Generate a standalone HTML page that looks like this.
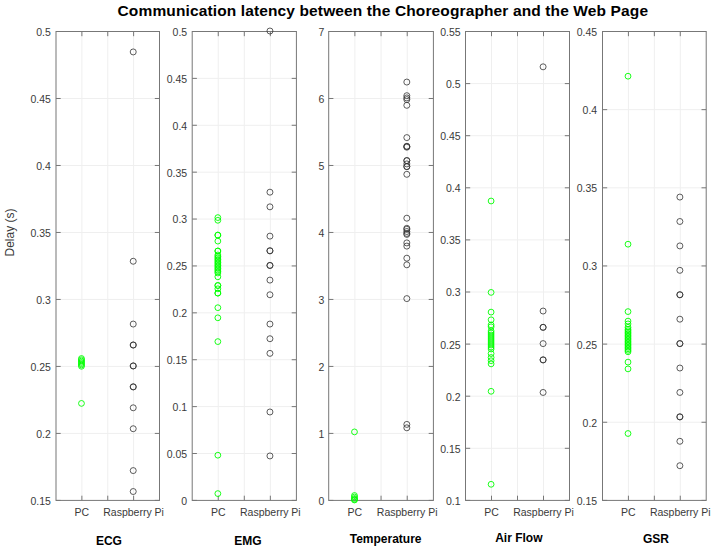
<!DOCTYPE html><html><head><meta charset="utf-8"><style>html,body{margin:0;padding:0;background:#fff;overflow:hidden}svg{display:block}text{font-family:"Liberation Sans",sans-serif}</style></head><body>
<svg width="713" height="549" viewBox="0 0 713 549">
<rect x="0" y="0" width="713" height="549" fill="#fff"/>
<g stroke="#efefef" stroke-width="1" fill="none"><line x1="56.00" y1="433.41" x2="159.50" y2="433.41"/><line x1="56.00" y1="366.43" x2="159.50" y2="366.43"/><line x1="56.00" y1="299.44" x2="159.50" y2="299.44"/><line x1="56.00" y1="232.46" x2="159.50" y2="232.46"/><line x1="56.00" y1="165.47" x2="159.50" y2="165.47"/><line x1="56.00" y1="98.49" x2="159.50" y2="98.49"/><line x1="81.88" y1="31.50" x2="81.88" y2="500.40"/><line x1="107.75" y1="31.50" x2="107.75" y2="500.40"/><line x1="133.62" y1="31.50" x2="133.62" y2="500.40"/></g>
<path d="M56.00 500.40h4.7M159.50 500.40h-4.7M56.00 433.41h4.7M159.50 433.41h-4.7M56.00 366.43h4.7M159.50 366.43h-4.7M56.00 299.44h4.7M159.50 299.44h-4.7M56.00 232.46h4.7M159.50 232.46h-4.7M56.00 165.47h4.7M159.50 165.47h-4.7M56.00 98.49h4.7M159.50 98.49h-4.7M56.00 31.50h4.7M159.50 31.50h-4.7M81.88 500.40v-4.7M81.88 31.50v4.7M107.75 500.40v-4.7M107.75 31.50v4.7M133.62 500.40v-4.7M133.62 31.50v4.7" stroke="#777777" stroke-width="1" fill="none"/>
<rect x="56.00" y="31.50" width="103.50" height="468.90" stroke="#777777" stroke-width="1" fill="none"/>
<path d="M78.57 403.40a2.9 2.9 0 1 0 5.80 0a2.9 2.9 0 1 0 -5.80 0M78.57 358.50a2.9 2.9 0 1 0 5.80 0a2.9 2.9 0 1 0 -5.80 0M78.57 359.80a2.9 2.9 0 1 0 5.80 0a2.9 2.9 0 1 0 -5.80 0M78.57 361.10a2.9 2.9 0 1 0 5.80 0a2.9 2.9 0 1 0 -5.80 0M78.57 362.40a2.9 2.9 0 1 0 5.80 0a2.9 2.9 0 1 0 -5.80 0M78.57 363.70a2.9 2.9 0 1 0 5.80 0a2.9 2.9 0 1 0 -5.80 0M78.57 365.00a2.9 2.9 0 1 0 5.80 0a2.9 2.9 0 1 0 -5.80 0M78.57 366.30a2.9 2.9 0 1 0 5.80 0a2.9 2.9 0 1 0 -5.80 0" stroke="#00ff00" stroke-width="0.9" fill="none"/>
<path d="M130.22 51.93a3.0 3.0 0 1 0 6.00 0a3.0 3.0 0 1 0 -6.00 0M130.22 261.26a3.0 3.0 0 1 0 6.00 0a3.0 3.0 0 1 0 -6.00 0M130.22 324.06a3.0 3.0 0 1 0 6.00 0a3.0 3.0 0 1 0 -6.00 0M130.22 345.00a3.0 3.0 0 1 0 6.00 0a3.0 3.0 0 1 0 -6.00 0M130.22 345.00a3.0 3.0 0 1 0 6.00 0a3.0 3.0 0 1 0 -6.00 0M130.22 365.93a3.0 3.0 0 1 0 6.00 0a3.0 3.0 0 1 0 -6.00 0M130.22 365.93a3.0 3.0 0 1 0 6.00 0a3.0 3.0 0 1 0 -6.00 0M130.22 386.86a3.0 3.0 0 1 0 6.00 0a3.0 3.0 0 1 0 -6.00 0M130.22 386.86a3.0 3.0 0 1 0 6.00 0a3.0 3.0 0 1 0 -6.00 0M130.22 407.79a3.0 3.0 0 1 0 6.00 0a3.0 3.0 0 1 0 -6.00 0M130.22 428.73a3.0 3.0 0 1 0 6.00 0a3.0 3.0 0 1 0 -6.00 0M130.22 470.59a3.0 3.0 0 1 0 6.00 0a3.0 3.0 0 1 0 -6.00 0M130.22 491.53a3.0 3.0 0 1 0 6.00 0a3.0 3.0 0 1 0 -6.00 0" stroke="#333333" stroke-width="0.8" fill="none"/>
<g font-size="10.5" fill="#3a3a3a" text-anchor="end"><text x="50.90" y="504.80">0.15</text><text x="50.90" y="437.81">0.2</text><text x="50.90" y="370.83">0.25</text><text x="50.90" y="303.84">0.3</text><text x="50.90" y="236.86">0.35</text><text x="50.90" y="169.87">0.4</text><text x="50.90" y="102.89">0.45</text><text x="50.90" y="35.90">0.5</text></g>
<g font-size="10.5" fill="#3a3a3a" text-anchor="middle"><text x="81.88" y="515.8">PC</text><text x="133.62" y="515.8">Raspberry Pi</text></g>
<text x="108.90" y="544.50" font-size="12" font-weight="bold" fill="#000" text-anchor="middle">ECG</text>
<g stroke="#efefef" stroke-width="1" fill="none"><line x1="192.20" y1="453.51" x2="296.40" y2="453.51"/><line x1="192.20" y1="406.62" x2="296.40" y2="406.62"/><line x1="192.20" y1="359.73" x2="296.40" y2="359.73"/><line x1="192.20" y1="312.84" x2="296.40" y2="312.84"/><line x1="192.20" y1="265.95" x2="296.40" y2="265.95"/><line x1="192.20" y1="219.06" x2="296.40" y2="219.06"/><line x1="192.20" y1="172.17" x2="296.40" y2="172.17"/><line x1="192.20" y1="125.28" x2="296.40" y2="125.28"/><line x1="192.20" y1="78.39" x2="296.40" y2="78.39"/><line x1="218.25" y1="31.50" x2="218.25" y2="500.40"/><line x1="244.30" y1="31.50" x2="244.30" y2="500.40"/><line x1="270.35" y1="31.50" x2="270.35" y2="500.40"/></g>
<path d="M192.20 500.40h4.7M296.40 500.40h-4.7M192.20 453.51h4.7M296.40 453.51h-4.7M192.20 406.62h4.7M296.40 406.62h-4.7M192.20 359.73h4.7M296.40 359.73h-4.7M192.20 312.84h4.7M296.40 312.84h-4.7M192.20 265.95h4.7M296.40 265.95h-4.7M192.20 219.06h4.7M296.40 219.06h-4.7M192.20 172.17h4.7M296.40 172.17h-4.7M192.20 125.28h4.7M296.40 125.28h-4.7M192.20 78.39h4.7M296.40 78.39h-4.7M192.20 31.50h4.7M296.40 31.50h-4.7M218.25 500.40v-4.7M218.25 31.50v4.7M244.30 500.40v-4.7M244.30 31.50v4.7M270.35 500.40v-4.7M270.35 31.50v4.7" stroke="#777777" stroke-width="1" fill="none"/>
<rect x="192.20" y="31.50" width="104.20" height="468.90" stroke="#777777" stroke-width="1" fill="none"/>
<path d="M214.95 217.60a2.9 2.9 0 1 0 5.80 0a2.9 2.9 0 1 0 -5.80 0M214.95 220.30a2.9 2.9 0 1 0 5.80 0a2.9 2.9 0 1 0 -5.80 0M214.95 235.10a2.9 2.9 0 1 0 5.80 0a2.9 2.9 0 1 0 -5.80 0M214.95 235.10a2.9 2.9 0 1 0 5.80 0a2.9 2.9 0 1 0 -5.80 0M214.95 241.10a2.9 2.9 0 1 0 5.80 0a2.9 2.9 0 1 0 -5.80 0M214.95 251.00a2.9 2.9 0 1 0 5.80 0a2.9 2.9 0 1 0 -5.80 0M214.95 251.00a2.9 2.9 0 1 0 5.80 0a2.9 2.9 0 1 0 -5.80 0M214.95 276.80a2.9 2.9 0 1 0 5.80 0a2.9 2.9 0 1 0 -5.80 0M214.95 285.50a2.9 2.9 0 1 0 5.80 0a2.9 2.9 0 1 0 -5.80 0M214.95 285.50a2.9 2.9 0 1 0 5.80 0a2.9 2.9 0 1 0 -5.80 0M214.95 288.80a2.9 2.9 0 1 0 5.80 0a2.9 2.9 0 1 0 -5.80 0M214.95 293.10a2.9 2.9 0 1 0 5.80 0a2.9 2.9 0 1 0 -5.80 0M214.95 293.10a2.9 2.9 0 1 0 5.80 0a2.9 2.9 0 1 0 -5.80 0M214.95 307.70a2.9 2.9 0 1 0 5.80 0a2.9 2.9 0 1 0 -5.80 0M214.95 317.80a2.9 2.9 0 1 0 5.80 0a2.9 2.9 0 1 0 -5.80 0M214.95 341.60a2.9 2.9 0 1 0 5.80 0a2.9 2.9 0 1 0 -5.80 0M214.95 455.20a2.9 2.9 0 1 0 5.80 0a2.9 2.9 0 1 0 -5.80 0M214.95 493.60a2.9 2.9 0 1 0 5.80 0a2.9 2.9 0 1 0 -5.80 0M214.95 255.00a2.9 2.9 0 1 0 5.80 0a2.9 2.9 0 1 0 -5.80 0M214.95 256.50a2.9 2.9 0 1 0 5.80 0a2.9 2.9 0 1 0 -5.80 0M214.95 258.00a2.9 2.9 0 1 0 5.80 0a2.9 2.9 0 1 0 -5.80 0M214.95 259.50a2.9 2.9 0 1 0 5.80 0a2.9 2.9 0 1 0 -5.80 0M214.95 261.00a2.9 2.9 0 1 0 5.80 0a2.9 2.9 0 1 0 -5.80 0M214.95 262.50a2.9 2.9 0 1 0 5.80 0a2.9 2.9 0 1 0 -5.80 0M214.95 264.00a2.9 2.9 0 1 0 5.80 0a2.9 2.9 0 1 0 -5.80 0M214.95 265.50a2.9 2.9 0 1 0 5.80 0a2.9 2.9 0 1 0 -5.80 0M214.95 267.00a2.9 2.9 0 1 0 5.80 0a2.9 2.9 0 1 0 -5.80 0M214.95 268.50a2.9 2.9 0 1 0 5.80 0a2.9 2.9 0 1 0 -5.80 0M214.95 270.00a2.9 2.9 0 1 0 5.80 0a2.9 2.9 0 1 0 -5.80 0M214.95 271.50a2.9 2.9 0 1 0 5.80 0a2.9 2.9 0 1 0 -5.80 0M214.95 273.00a2.9 2.9 0 1 0 5.80 0a2.9 2.9 0 1 0 -5.80 0" stroke="#00ff00" stroke-width="0.9" fill="none"/>
<path d="M266.95 31.00a3.0 3.0 0 1 0 6.00 0a3.0 3.0 0 1 0 -6.00 0M266.95 192.18a3.0 3.0 0 1 0 6.00 0a3.0 3.0 0 1 0 -6.00 0M266.95 206.84a3.0 3.0 0 1 0 6.00 0a3.0 3.0 0 1 0 -6.00 0M266.95 236.14a3.0 3.0 0 1 0 6.00 0a3.0 3.0 0 1 0 -6.00 0M266.95 250.80a3.0 3.0 0 1 0 6.00 0a3.0 3.0 0 1 0 -6.00 0M266.95 250.80a3.0 3.0 0 1 0 6.00 0a3.0 3.0 0 1 0 -6.00 0M266.95 265.45a3.0 3.0 0 1 0 6.00 0a3.0 3.0 0 1 0 -6.00 0M266.95 265.45a3.0 3.0 0 1 0 6.00 0a3.0 3.0 0 1 0 -6.00 0M266.95 280.10a3.0 3.0 0 1 0 6.00 0a3.0 3.0 0 1 0 -6.00 0M266.95 294.76a3.0 3.0 0 1 0 6.00 0a3.0 3.0 0 1 0 -6.00 0M266.95 324.06a3.0 3.0 0 1 0 6.00 0a3.0 3.0 0 1 0 -6.00 0M266.95 338.72a3.0 3.0 0 1 0 6.00 0a3.0 3.0 0 1 0 -6.00 0M266.95 353.37a3.0 3.0 0 1 0 6.00 0a3.0 3.0 0 1 0 -6.00 0M266.95 411.98a3.0 3.0 0 1 0 6.00 0a3.0 3.0 0 1 0 -6.00 0M266.95 455.94a3.0 3.0 0 1 0 6.00 0a3.0 3.0 0 1 0 -6.00 0" stroke="#333333" stroke-width="0.8" fill="none"/>
<g font-size="10.5" fill="#3a3a3a" text-anchor="end"><text x="187.20" y="504.80">0</text><text x="187.20" y="457.91">0.05</text><text x="187.20" y="411.02">0.1</text><text x="187.20" y="364.13">0.15</text><text x="187.20" y="317.24">0.2</text><text x="187.20" y="270.35">0.25</text><text x="187.20" y="223.46">0.3</text><text x="187.20" y="176.57">0.35</text><text x="187.20" y="129.68">0.4</text><text x="187.20" y="82.79">0.45</text><text x="187.20" y="35.90">0.5</text></g>
<g font-size="10.5" fill="#3a3a3a" text-anchor="middle"><text x="218.25" y="515.8">PC</text><text x="270.35" y="515.8">Raspberry Pi</text></g>
<text x="247.90" y="544.70" font-size="12" font-weight="bold" fill="#000" text-anchor="middle">EMG</text>
<g stroke="#efefef" stroke-width="1" fill="none"><line x1="328.70" y1="433.41" x2="433.40" y2="433.41"/><line x1="328.70" y1="366.43" x2="433.40" y2="366.43"/><line x1="328.70" y1="299.44" x2="433.40" y2="299.44"/><line x1="328.70" y1="232.46" x2="433.40" y2="232.46"/><line x1="328.70" y1="165.47" x2="433.40" y2="165.47"/><line x1="328.70" y1="98.49" x2="433.40" y2="98.49"/><line x1="354.88" y1="31.50" x2="354.88" y2="500.40"/><line x1="381.05" y1="31.50" x2="381.05" y2="500.40"/><line x1="407.22" y1="31.50" x2="407.22" y2="500.40"/></g>
<path d="M328.70 500.40h4.7M433.40 500.40h-4.7M328.70 433.41h4.7M433.40 433.41h-4.7M328.70 366.43h4.7M433.40 366.43h-4.7M328.70 299.44h4.7M433.40 299.44h-4.7M328.70 232.46h4.7M433.40 232.46h-4.7M328.70 165.47h4.7M433.40 165.47h-4.7M328.70 98.49h4.7M433.40 98.49h-4.7M328.70 31.50h4.7M433.40 31.50h-4.7M354.88 500.40v-4.7M354.88 31.50v4.7M381.05 500.40v-4.7M381.05 31.50v4.7M407.22 500.40v-4.7M407.22 31.50v4.7" stroke="#777777" stroke-width="1" fill="none"/>
<rect x="328.70" y="31.50" width="104.70" height="468.90" stroke="#777777" stroke-width="1" fill="none"/>
<path d="M351.58 431.90a2.9 2.9 0 1 0 5.80 0a2.9 2.9 0 1 0 -5.80 0M351.58 495.50a2.9 2.9 0 1 0 5.80 0a2.9 2.9 0 1 0 -5.80 0M351.58 497.00a2.9 2.9 0 1 0 5.80 0a2.9 2.9 0 1 0 -5.80 0M351.58 498.50a2.9 2.9 0 1 0 5.80 0a2.9 2.9 0 1 0 -5.80 0M351.58 499.50a2.9 2.9 0 1 0 5.80 0a2.9 2.9 0 1 0 -5.80 0M351.58 500.00a2.9 2.9 0 1 0 5.80 0a2.9 2.9 0 1 0 -5.80 0" stroke="#00ff00" stroke-width="0.9" fill="none"/>
<path d="M403.82 82.05a3.0 3.0 0 1 0 6.00 0a3.0 3.0 0 1 0 -6.00 0M403.82 95.70a3.0 3.0 0 1 0 6.00 0a3.0 3.0 0 1 0 -6.00 0M403.82 97.90a3.0 3.0 0 1 0 6.00 0a3.0 3.0 0 1 0 -6.00 0M403.82 99.60a3.0 3.0 0 1 0 6.00 0a3.0 3.0 0 1 0 -6.00 0M403.82 105.30a3.0 3.0 0 1 0 6.00 0a3.0 3.0 0 1 0 -6.00 0M403.82 137.60a3.0 3.0 0 1 0 6.00 0a3.0 3.0 0 1 0 -6.00 0M403.82 146.40a3.0 3.0 0 1 0 6.00 0a3.0 3.0 0 1 0 -6.00 0M403.82 146.40a3.0 3.0 0 1 0 6.00 0a3.0 3.0 0 1 0 -6.00 0M403.82 147.20a3.0 3.0 0 1 0 6.00 0a3.0 3.0 0 1 0 -6.00 0M403.82 160.60a3.0 3.0 0 1 0 6.00 0a3.0 3.0 0 1 0 -6.00 0M403.82 160.60a3.0 3.0 0 1 0 6.00 0a3.0 3.0 0 1 0 -6.00 0M403.82 163.90a3.0 3.0 0 1 0 6.00 0a3.0 3.0 0 1 0 -6.00 0M403.82 166.60a3.0 3.0 0 1 0 6.00 0a3.0 3.0 0 1 0 -6.00 0M403.82 166.60a3.0 3.0 0 1 0 6.00 0a3.0 3.0 0 1 0 -6.00 0M403.82 174.30a3.0 3.0 0 1 0 6.00 0a3.0 3.0 0 1 0 -6.00 0M403.82 218.20a3.0 3.0 0 1 0 6.00 0a3.0 3.0 0 1 0 -6.00 0M403.82 228.30a3.0 3.0 0 1 0 6.00 0a3.0 3.0 0 1 0 -6.00 0M403.82 229.30a3.0 3.0 0 1 0 6.00 0a3.0 3.0 0 1 0 -6.00 0M403.82 231.50a3.0 3.0 0 1 0 6.00 0a3.0 3.0 0 1 0 -6.00 0M403.82 233.40a3.0 3.0 0 1 0 6.00 0a3.0 3.0 0 1 0 -6.00 0M403.82 234.40a3.0 3.0 0 1 0 6.00 0a3.0 3.0 0 1 0 -6.00 0M403.82 242.90a3.0 3.0 0 1 0 6.00 0a3.0 3.0 0 1 0 -6.00 0M403.82 246.10a3.0 3.0 0 1 0 6.00 0a3.0 3.0 0 1 0 -6.00 0M403.82 258.20a3.0 3.0 0 1 0 6.00 0a3.0 3.0 0 1 0 -6.00 0M403.82 264.80a3.0 3.0 0 1 0 6.00 0a3.0 3.0 0 1 0 -6.00 0M403.82 298.60a3.0 3.0 0 1 0 6.00 0a3.0 3.0 0 1 0 -6.00 0M403.82 424.40a3.0 3.0 0 1 0 6.00 0a3.0 3.0 0 1 0 -6.00 0M403.82 427.80a3.0 3.0 0 1 0 6.00 0a3.0 3.0 0 1 0 -6.00 0" stroke="#333333" stroke-width="0.8" fill="none"/>
<g font-size="10.5" fill="#3a3a3a" text-anchor="end"><text x="324.40" y="504.80">0</text><text x="324.40" y="437.81">1</text><text x="324.40" y="370.83">2</text><text x="324.40" y="303.84">3</text><text x="324.40" y="236.86">4</text><text x="324.40" y="169.87">5</text><text x="324.40" y="102.89">6</text><text x="324.40" y="35.90">7</text></g>
<g font-size="10.5" fill="#3a3a3a" text-anchor="middle"><text x="354.88" y="515.8">PC</text><text x="407.22" y="515.8">Raspberry Pi</text></g>
<text x="385.60" y="543.00" font-size="12" font-weight="bold" fill="#000" text-anchor="middle">Temperature</text>
<g stroke="#efefef" stroke-width="1" fill="none"><line x1="465.50" y1="448.30" x2="569.50" y2="448.30"/><line x1="465.50" y1="396.20" x2="569.50" y2="396.20"/><line x1="465.50" y1="344.10" x2="569.50" y2="344.10"/><line x1="465.50" y1="292.00" x2="569.50" y2="292.00"/><line x1="465.50" y1="239.90" x2="569.50" y2="239.90"/><line x1="465.50" y1="187.80" x2="569.50" y2="187.80"/><line x1="465.50" y1="135.70" x2="569.50" y2="135.70"/><line x1="465.50" y1="83.60" x2="569.50" y2="83.60"/><line x1="491.50" y1="31.50" x2="491.50" y2="500.40"/><line x1="517.50" y1="31.50" x2="517.50" y2="500.40"/><line x1="543.50" y1="31.50" x2="543.50" y2="500.40"/></g>
<path d="M465.50 500.40h4.7M569.50 500.40h-4.7M465.50 448.30h4.7M569.50 448.30h-4.7M465.50 396.20h4.7M569.50 396.20h-4.7M465.50 344.10h4.7M569.50 344.10h-4.7M465.50 292.00h4.7M569.50 292.00h-4.7M465.50 239.90h4.7M569.50 239.90h-4.7M465.50 187.80h4.7M569.50 187.80h-4.7M465.50 135.70h4.7M569.50 135.70h-4.7M465.50 83.60h4.7M569.50 83.60h-4.7M465.50 31.50h4.7M569.50 31.50h-4.7M491.50 500.40v-4.7M491.50 31.50v4.7M517.50 500.40v-4.7M517.50 31.50v4.7M543.50 500.40v-4.7M543.50 31.50v4.7" stroke="#777777" stroke-width="1" fill="none"/>
<rect x="465.50" y="31.50" width="104.00" height="468.90" stroke="#777777" stroke-width="1" fill="none"/>
<path d="M488.20 201.00a2.9 2.9 0 1 0 5.80 0a2.9 2.9 0 1 0 -5.80 0M488.20 292.40a2.9 2.9 0 1 0 5.80 0a2.9 2.9 0 1 0 -5.80 0M488.20 312.10a2.9 2.9 0 1 0 5.80 0a2.9 2.9 0 1 0 -5.80 0M488.20 319.80a2.9 2.9 0 1 0 5.80 0a2.9 2.9 0 1 0 -5.80 0M488.20 324.90a2.9 2.9 0 1 0 5.80 0a2.9 2.9 0 1 0 -5.80 0M488.20 326.80a2.9 2.9 0 1 0 5.80 0a2.9 2.9 0 1 0 -5.80 0M488.20 353.60a2.9 2.9 0 1 0 5.80 0a2.9 2.9 0 1 0 -5.80 0M488.20 357.50a2.9 2.9 0 1 0 5.80 0a2.9 2.9 0 1 0 -5.80 0M488.20 360.70a2.9 2.9 0 1 0 5.80 0a2.9 2.9 0 1 0 -5.80 0M488.20 363.90a2.9 2.9 0 1 0 5.80 0a2.9 2.9 0 1 0 -5.80 0M488.20 391.30a2.9 2.9 0 1 0 5.80 0a2.9 2.9 0 1 0 -5.80 0M488.20 484.30a2.9 2.9 0 1 0 5.80 0a2.9 2.9 0 1 0 -5.80 0M488.20 331.00a2.9 2.9 0 1 0 5.80 0a2.9 2.9 0 1 0 -5.80 0M488.20 333.00a2.9 2.9 0 1 0 5.80 0a2.9 2.9 0 1 0 -5.80 0M488.20 335.00a2.9 2.9 0 1 0 5.80 0a2.9 2.9 0 1 0 -5.80 0M488.20 337.00a2.9 2.9 0 1 0 5.80 0a2.9 2.9 0 1 0 -5.80 0M488.20 339.00a2.9 2.9 0 1 0 5.80 0a2.9 2.9 0 1 0 -5.80 0M488.20 341.00a2.9 2.9 0 1 0 5.80 0a2.9 2.9 0 1 0 -5.80 0M488.20 343.00a2.9 2.9 0 1 0 5.80 0a2.9 2.9 0 1 0 -5.80 0M488.20 345.00a2.9 2.9 0 1 0 5.80 0a2.9 2.9 0 1 0 -5.80 0M488.20 347.00a2.9 2.9 0 1 0 5.80 0a2.9 2.9 0 1 0 -5.80 0M488.20 349.00a2.9 2.9 0 1 0 5.80 0a2.9 2.9 0 1 0 -5.80 0" stroke="#00ff00" stroke-width="0.9" fill="none"/>
<path d="M540.10 66.82a3.0 3.0 0 1 0 6.00 0a3.0 3.0 0 1 0 -6.00 0M540.10 311.04a3.0 3.0 0 1 0 6.00 0a3.0 3.0 0 1 0 -6.00 0M540.10 327.32a3.0 3.0 0 1 0 6.00 0a3.0 3.0 0 1 0 -6.00 0M540.10 327.32a3.0 3.0 0 1 0 6.00 0a3.0 3.0 0 1 0 -6.00 0M540.10 343.60a3.0 3.0 0 1 0 6.00 0a3.0 3.0 0 1 0 -6.00 0M540.10 359.88a3.0 3.0 0 1 0 6.00 0a3.0 3.0 0 1 0 -6.00 0M540.10 359.88a3.0 3.0 0 1 0 6.00 0a3.0 3.0 0 1 0 -6.00 0M540.10 392.44a3.0 3.0 0 1 0 6.00 0a3.0 3.0 0 1 0 -6.00 0" stroke="#333333" stroke-width="0.8" fill="none"/>
<g font-size="10.5" fill="#3a3a3a" text-anchor="end"><text x="460.60" y="504.80">0.1</text><text x="460.60" y="452.70">0.15</text><text x="460.60" y="400.60">0.2</text><text x="460.60" y="348.50">0.25</text><text x="460.60" y="296.40">0.3</text><text x="460.60" y="244.30">0.35</text><text x="460.60" y="192.20">0.4</text><text x="460.60" y="140.10">0.45</text><text x="460.60" y="88.00">0.5</text><text x="460.60" y="35.90">0.55</text></g>
<g font-size="10.5" fill="#3a3a3a" text-anchor="middle"><text x="491.50" y="515.8">PC</text><text x="543.50" y="515.8">Raspberry Pi</text></g>
<text x="518.85" y="542.40" font-size="12" font-weight="bold" fill="#000" text-anchor="middle">Air Flow</text>
<g stroke="#efefef" stroke-width="1" fill="none"><line x1="602.50" y1="422.25" x2="706.20" y2="422.25"/><line x1="602.50" y1="344.10" x2="706.20" y2="344.10"/><line x1="602.50" y1="265.95" x2="706.20" y2="265.95"/><line x1="602.50" y1="187.80" x2="706.20" y2="187.80"/><line x1="602.50" y1="109.65" x2="706.20" y2="109.65"/><line x1="628.42" y1="31.50" x2="628.42" y2="500.40"/><line x1="654.35" y1="31.50" x2="654.35" y2="500.40"/><line x1="680.28" y1="31.50" x2="680.28" y2="500.40"/></g>
<path d="M602.50 500.40h4.7M706.20 500.40h-4.7M602.50 422.25h4.7M706.20 422.25h-4.7M602.50 344.10h4.7M706.20 344.10h-4.7M602.50 265.95h4.7M706.20 265.95h-4.7M602.50 187.80h4.7M706.20 187.80h-4.7M602.50 109.65h4.7M706.20 109.65h-4.7M602.50 31.50h4.7M706.20 31.50h-4.7M628.42 500.40v-4.7M628.42 31.50v4.7M654.35 500.40v-4.7M654.35 31.50v4.7M680.28 500.40v-4.7M680.28 31.50v4.7" stroke="#777777" stroke-width="1" fill="none"/>
<rect x="602.50" y="31.50" width="103.70" height="468.90" stroke="#777777" stroke-width="1" fill="none"/>
<path d="M625.12 76.20a2.9 2.9 0 1 0 5.80 0a2.9 2.9 0 1 0 -5.80 0M625.12 244.20a2.9 2.9 0 1 0 5.80 0a2.9 2.9 0 1 0 -5.80 0M625.12 311.60a2.9 2.9 0 1 0 5.80 0a2.9 2.9 0 1 0 -5.80 0M625.12 321.10a2.9 2.9 0 1 0 5.80 0a2.9 2.9 0 1 0 -5.80 0M625.12 323.90a2.9 2.9 0 1 0 5.80 0a2.9 2.9 0 1 0 -5.80 0M625.12 327.30a2.9 2.9 0 1 0 5.80 0a2.9 2.9 0 1 0 -5.80 0M625.12 362.10a2.9 2.9 0 1 0 5.80 0a2.9 2.9 0 1 0 -5.80 0M625.12 368.90a2.9 2.9 0 1 0 5.80 0a2.9 2.9 0 1 0 -5.80 0M625.12 433.50a2.9 2.9 0 1 0 5.80 0a2.9 2.9 0 1 0 -5.80 0M625.12 329.30a2.9 2.9 0 1 0 5.80 0a2.9 2.9 0 1 0 -5.80 0M625.12 330.80a2.9 2.9 0 1 0 5.80 0a2.9 2.9 0 1 0 -5.80 0M625.12 332.30a2.9 2.9 0 1 0 5.80 0a2.9 2.9 0 1 0 -5.80 0M625.12 333.80a2.9 2.9 0 1 0 5.80 0a2.9 2.9 0 1 0 -5.80 0M625.12 335.30a2.9 2.9 0 1 0 5.80 0a2.9 2.9 0 1 0 -5.80 0M625.12 336.80a2.9 2.9 0 1 0 5.80 0a2.9 2.9 0 1 0 -5.80 0M625.12 338.30a2.9 2.9 0 1 0 5.80 0a2.9 2.9 0 1 0 -5.80 0M625.12 339.80a2.9 2.9 0 1 0 5.80 0a2.9 2.9 0 1 0 -5.80 0M625.12 341.30a2.9 2.9 0 1 0 5.80 0a2.9 2.9 0 1 0 -5.80 0M625.12 342.80a2.9 2.9 0 1 0 5.80 0a2.9 2.9 0 1 0 -5.80 0M625.12 344.30a2.9 2.9 0 1 0 5.80 0a2.9 2.9 0 1 0 -5.80 0M625.12 345.80a2.9 2.9 0 1 0 5.80 0a2.9 2.9 0 1 0 -5.80 0M625.12 347.30a2.9 2.9 0 1 0 5.80 0a2.9 2.9 0 1 0 -5.80 0M625.12 348.80a2.9 2.9 0 1 0 5.80 0a2.9 2.9 0 1 0 -5.80 0M625.12 350.30a2.9 2.9 0 1 0 5.80 0a2.9 2.9 0 1 0 -5.80 0M625.12 351.80a2.9 2.9 0 1 0 5.80 0a2.9 2.9 0 1 0 -5.80 0" stroke="#00ff00" stroke-width="0.9" fill="none"/>
<path d="M676.88 197.07a3.0 3.0 0 1 0 6.00 0a3.0 3.0 0 1 0 -6.00 0M676.88 221.49a3.0 3.0 0 1 0 6.00 0a3.0 3.0 0 1 0 -6.00 0M676.88 245.91a3.0 3.0 0 1 0 6.00 0a3.0 3.0 0 1 0 -6.00 0M676.88 270.33a3.0 3.0 0 1 0 6.00 0a3.0 3.0 0 1 0 -6.00 0M676.88 294.76a3.0 3.0 0 1 0 6.00 0a3.0 3.0 0 1 0 -6.00 0M676.88 294.76a3.0 3.0 0 1 0 6.00 0a3.0 3.0 0 1 0 -6.00 0M676.88 319.18a3.0 3.0 0 1 0 6.00 0a3.0 3.0 0 1 0 -6.00 0M676.88 343.60a3.0 3.0 0 1 0 6.00 0a3.0 3.0 0 1 0 -6.00 0M676.88 343.60a3.0 3.0 0 1 0 6.00 0a3.0 3.0 0 1 0 -6.00 0M676.88 368.02a3.0 3.0 0 1 0 6.00 0a3.0 3.0 0 1 0 -6.00 0M676.88 392.44a3.0 3.0 0 1 0 6.00 0a3.0 3.0 0 1 0 -6.00 0M676.88 416.87a3.0 3.0 0 1 0 6.00 0a3.0 3.0 0 1 0 -6.00 0M676.88 416.87a3.0 3.0 0 1 0 6.00 0a3.0 3.0 0 1 0 -6.00 0M676.88 441.29a3.0 3.0 0 1 0 6.00 0a3.0 3.0 0 1 0 -6.00 0M676.88 465.71a3.0 3.0 0 1 0 6.00 0a3.0 3.0 0 1 0 -6.00 0" stroke="#333333" stroke-width="0.8" fill="none"/>
<g font-size="10.5" fill="#3a3a3a" text-anchor="end"><text x="597.20" y="504.80">0.15</text><text x="597.20" y="426.65">0.2</text><text x="597.20" y="348.50">0.25</text><text x="597.20" y="270.35">0.3</text><text x="597.20" y="192.20">0.35</text><text x="597.20" y="114.05">0.4</text><text x="597.20" y="35.90">0.45</text></g>
<g font-size="10.5" fill="#3a3a3a" text-anchor="middle"><text x="628.42" y="515.8">PC</text><text x="680.28" y="515.8">Raspberry Pi</text></g>
<text x="655.90" y="542.60" font-size="12" font-weight="bold" fill="#000" text-anchor="middle">GSR</text>
<text x="382.8" y="16.0" font-size="15.5" font-weight="bold" fill="#000" text-anchor="middle" textLength="530.5" lengthAdjust="spacing">Communication latency between the Choreographer and the Web Page</text>
<text transform="translate(14.0 232.5) rotate(-90)" font-size="12" fill="#3a3a3a" text-anchor="middle">Delay (s)</text>
</svg></body></html>
